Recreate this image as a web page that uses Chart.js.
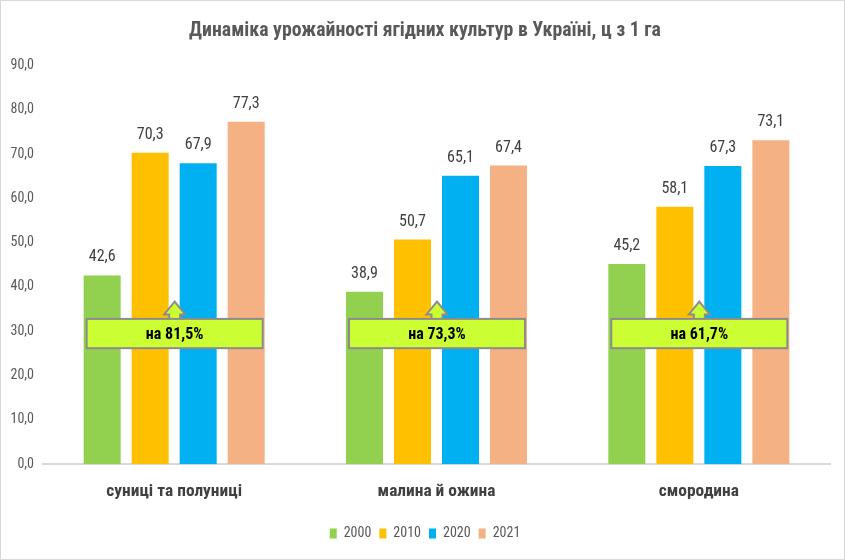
<!DOCTYPE html>
<html>
<head>
<meta charset="utf-8">
<script src="https://cdn.jsdelivr.net/npm/chart.js@4/dist/chart.umd.min.js"></script>
<style>
  body { margin: 0; background: #fff; }
</style>
</head>
<body>
<canvas id="chart" width="846" height="560"></canvas>
<script>
const categories = ["суниці та полуниці", "малина й ожина", "смородина"];
const years = ["2000", "2010", "2020", "2021"];
const y2000 = [42.6, 38.9, 45.2];
const y2010 = [70.3, 50.7, 58.1];
const y2020 = [67.9, 65.1, 67.3];
const y2021 = [77.3, 67.4, 73.1];
const growth = [81.5, 73.3, 61.7];
const yMin = 0;
const yMax = 90;
const yStep = 10;

const colors = ["#92D050", "#FFC000", "#00B0F0", "#F4B183"];
const FONT = "'Roboto Condensed', Carlito, sans-serif";

function fmt(v) {
  return v.toFixed(1).replace(".", ",");
}

// value labels above the bars
const valueLabels = {
  id: "valueLabels",
  afterDatasetsDraw(chart) {
    const ctx = chart.ctx;
    ctx.save();
    ctx.font = "16px " + FONT;
    ctx.fillStyle = "#404040";
    ctx.textAlign = "center";
    ctx.textBaseline = "middle";
    chart.data.datasets.forEach((ds, i) => {
      chart.getDatasetMeta(i).data.forEach((bar, j) => {
        ctx.fillText(fmt(ds.data[j]), bar.x, bar.y - 18);
      });
    });
    ctx.restore();
  },
};

// green callouts "на xx,x%"
const growthBoxes = {
  id: "growthBoxes",
  afterDatasetsDraw(chart) {
    const ctx = chart.ctx;
    const y = chart.scales.y;
    const first = chart.getDatasetMeta(0).data;
    const last = chart.getDatasetMeta(chart.data.datasets.length - 1).data;
    ctx.save();
    growth.forEach((g, i) => {
      const left = first[i].x - first[i].width / 2 + 3;
      const right = last[i].x + last[i].width / 2 - 2;
      const cx = (left + right) / 2;
      const top = y.getPixelForValue(32.8);
      const bottom = y.getPixelForValue(26.2);
      const tip = y.getPixelForValue(36.7);
      const headBase = top - 4.5;

      ctx.fillStyle = "#CCFF33";
      ctx.strokeStyle = "#8C8C8C";
      ctx.lineWidth = 2;
      // arrow
      ctx.beginPath();
      ctx.moveTo(cx - 5.5, top);
      ctx.lineTo(cx - 5.5, headBase);
      ctx.lineTo(cx - 10.5, headBase);
      ctx.lineTo(cx, tip);
      ctx.lineTo(cx + 10.5, headBase);
      ctx.lineTo(cx + 5.5, headBase);
      ctx.lineTo(cx + 5.5, top);
      ctx.closePath();
      ctx.fill();
      ctx.stroke();
      // box
      ctx.fillRect(left, top, right - left, bottom - top);
      ctx.strokeRect(left, top, right - left, bottom - top);

      ctx.fillStyle = "#000";
      ctx.font = "bold 16px " + FONT;
      ctx.textAlign = "center";
      ctx.textBaseline = "middle";
      ctx.fillText("на " + fmt(g) + "%", cx, (top + bottom) / 2 + 1);
    });
    ctx.restore();
  },
};

const frame = {
  id: "frame",
  afterDraw(chart) {
    const ctx = chart.ctx;
    ctx.save();
    ctx.strokeStyle = "#D9D9D9";
    ctx.lineWidth = 1;
    ctx.strokeRect(0.5, 0.5, chart.width - 2, chart.height - 1);
    ctx.restore();
  },
};

const ctx = document.getElementById("chart").getContext("2d");
const chart = new Chart(ctx, {
  type: "bar",
  data: {
    labels: categories,
    datasets: [y2000, y2010, y2020, y2021].map((d, i) => ({
      label: years[i],
      data: d,
      backgroundColor: colors[i],
      categoryPercentage: 0.732,
      barPercentage: 0.771,
    })),
  },
  options: {
    responsive: false,
    animation: false,
    layout: {
      padding: { left: 20, right: 16, top: 0, bottom: 9.5 },
    },
    scales: {
      x: {
        grid: { display: false, drawTicks: false },
        border: { display: true, color: "#D9D9D9", width: 2 },
        ticks: {
          padding: 17,
          color: "#404040",
          font: { family: FONT, size: 17.4, weight: "bold" },
        },
        afterFit(scale) {
          scale.height = 54.2;
        },
      },
      y: {
        min: yMin,
        max: yMax,
        grid: { display: false, drawTicks: false },
        border: { display: false },
        ticks: {
          stepSize: yStep,
          padding: 9,
          color: "#595959",
          font: { family: FONT, size: 14 },
          callback: (v) => fmt(v),
        },
        afterFit(scale) {
          scale.width = 23;
          // labels stick out past the narrow axis box, so don't clip them
          scale._computeLabelArea = () => undefined;
        },
      },
    },
    plugins: {
      title: {
        display: true,
        text: "Динаміка урожайності ягідних культур в Україні, ц з 1 га",
        color: "#595959",
        font: { family: FONT, size: 19.8, weight: "bold" },
        padding: { top: 19.4, bottom: 22.2 },
      },
      legend: {
        position: "bottom",
        labels: {
          boxWidth: 7,
          boxHeight: 10,
          padding: 8,
          color: "#595959",
          font: { family: FONT, size: 14 },
        },
      },
      tooltip: { enabled: false },
    },
  },
  plugins: [valueLabels, growthBoxes, frame],
});
</script>
</body>
</html>
